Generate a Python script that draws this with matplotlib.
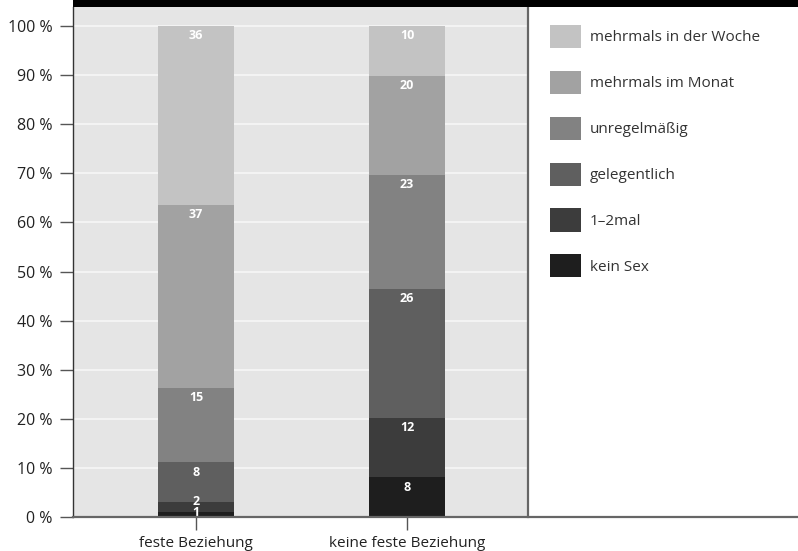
import matplotlib
matplotlib.use("Agg")
import matplotlib.pyplot as plt
from matplotlib.patches import Patch, Rectangle
from matplotlib.lines import Line2D
import numpy as np

plt.rcParams['font.family'] = ['Open Sans', 'DejaVu Sans']

groups = ["feste Beziehung", "keine feste Beziehung"]
# frequency categories, bottom to top
categories = ["kein Sex", "1–2mal", "gelegentlich", "unregelmäßig",
              "mehrmals im Monat", "mehrmals in der Woche"]
values_feste = [1, 2, 8, 15, 37, 36]
values_keine = [8, 12, 26, 23, 20, 10]
colors = ["#1e1e1e", "#3c3c3c", "#5f5f5f", "#828282", "#a2a2a2", "#c3c3c3"]
y_ticks = [0, 10, 20, 30, 40, 50, 60, 70, 80, 90, 100]
y_tick_labels = [f"{v} %" for v in y_ticks]

W, H = 798, 551
fig = plt.figure(figsize=(W / 100, H / 100), dpi=100)
fig.patch.set_facecolor("white")

ax_l, ax_r, ax_b, ax_t = 73, 528, 517, 7
ax = fig.add_axes([ax_l / W, 1 - ax_b / H, (ax_r - ax_l) / W, (ax_b - ax_t) / H])
ax.set_facecolor("#e5e5e5")

x = np.arange(len(groups))
data = np.array([values_feste, values_keine], dtype=float)
shares = data / data.sum(axis=1, keepdims=True) * 100
bottoms = np.zeros(len(groups))
label_pos = np.zeros_like(shares)
for i, cat in enumerate(categories):
    ax.bar(x, shares[:, i], bottom=bottoms, width=0.36, color=colors[i],
           zorder=3, linewidth=0)
    bottoms += shares[:, i]
    label_pos[:, i] = bottoms - 2.0

# keep value labels of thin segments from colliding
for j in range(len(groups)):
    prev = -np.inf
    for i in range(len(categories)):
        y = max(label_pos[j, i], 0.9, prev + 2.35)
        label_pos[j, i] = y
        prev = y
        ax.text(x[j], y, str(int(data[j, i])), ha="center", va="center",
                color="white", fontsize=9, fontweight="bold", zorder=4)

ax.set_xlim(-0.583, 1.573)
ax.set_ylim(0, 103.9)
ax.set_yticks(y_ticks)
ax.set_yticklabels(y_tick_labels, fontsize=11.5, color="#222222")
ax.set_xticks(x)
ax.set_xticklabels(groups, fontsize=11, color="#222222")
ax.yaxis.grid(True, color="#f7f7f7", linewidth=1.2, zorder=1)
ax.set_axisbelow(True)
ax.tick_params(axis="y", length=9.5, width=1, color="#555555", pad=5.5)
ax.tick_params(axis="x", length=9.5, width=1, color="#555555", pad=4.5)

ax.spines["top"].set_visible(False)
ax.spines["left"].set_color("#333333")
ax.spines["left"].set_linewidth(1)
ax.spines["right"].set_color("#666666")
ax.spines["right"].set_linewidth(1.6)
ax.spines["bottom"].set_visible(False)

# baseline running under the plot and the key panel
fig.add_artist(Line2D([ax_l / W, 1.0], [1 - ax_b / H, 1 - ax_b / H],
                      color="#666666", linewidth=1.6, transform=fig.transFigure))
# black header strip
fig.add_artist(Rectangle((ax_l / W, 1 - ax_t / H), 1 - ax_l / W, ax_t / H,
                         facecolor="black", edgecolor="none",
                         transform=fig.transFigure))

handles = [Patch(facecolor=c, edgecolor="none") for c in colors[::-1]]
fig.legend(handles, categories[::-1], loc="upper left",
           bbox_to_anchor=(550 / W, 1 - 25 / H), frameon=False,
           fontsize=11, handlelength=2.0, handleheight=1.95,
           labelspacing=1.49, handletextpad=0.6, borderpad=0,
           borderaxespad=0, labelcolor="#333333")

fig.savefig("out.png", dpi=100, facecolor="white")
